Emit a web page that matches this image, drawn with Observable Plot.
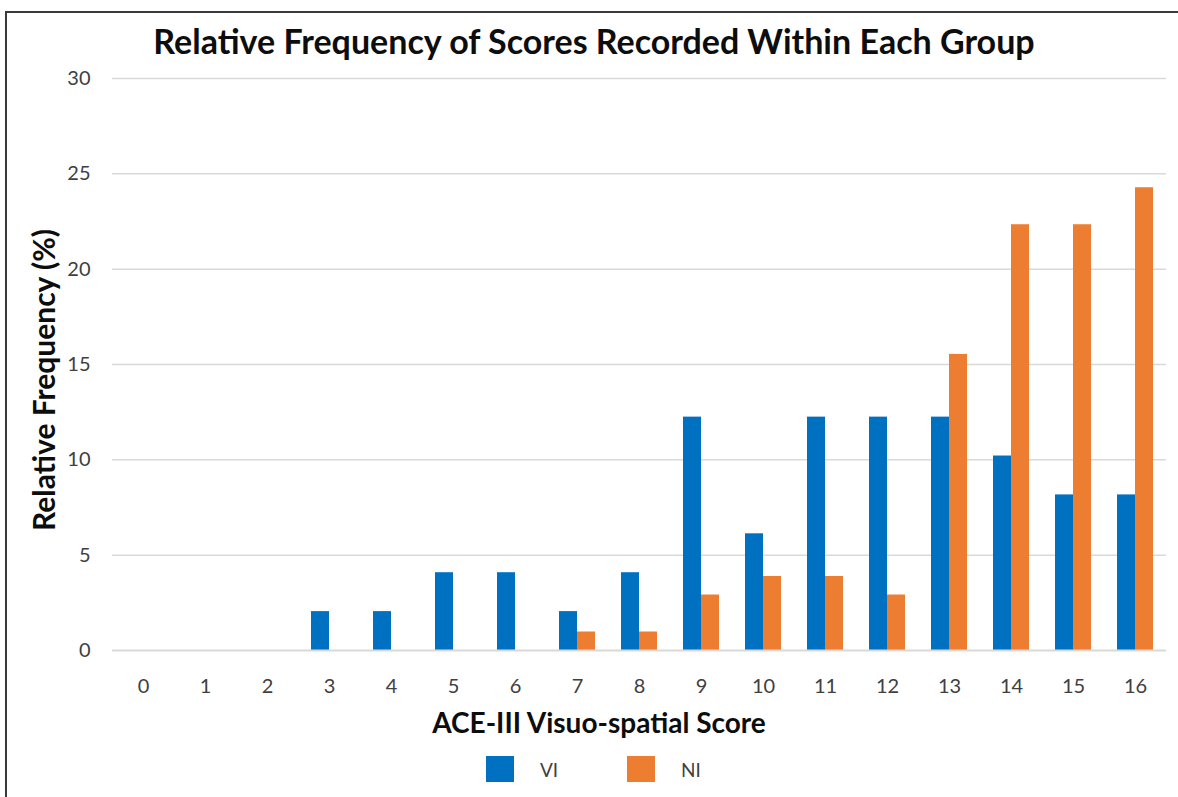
<!DOCTYPE html>
<html>
<head>
<meta charset="utf-8">
<script src="https://cdn.jsdelivr.net/npm/d3@7"></script>
<script src="https://cdn.jsdelivr.net/npm/@observablehq/plot@0.6"></script>
<style>
  html, body { margin: 0; padding: 0; background: #fff; }
  body { width: 1178px; height: 797px; position: relative; overflow: hidden; font-family: Lato, "Open Sans", sans-serif; }
  #frame { position: absolute; left: 5px; top: 11px; width: 1180px; height: 800px; border-left: 2px solid #3a3a3a; border-top: 2px solid #3a3a3a; }
  #title { position: absolute; left: 0; width: 1188px; top: 21px; line-height: 40px; text-align: center; font-weight: bold; font-size: 34px; color: #0d0d0d; }
  #chart { position: absolute; left: 0; top: 60px; }
  #xlabel { position: absolute; left: 0; width: 1198px; top: 706px; line-height: 32px; text-align: center; font-weight: bold; font-size: 28px; color: #0d0d0d; }
  #ylabel { position: absolute; left: 43px; top: 380px; transform: translate(-50%, -50%) rotate(-90deg); white-space: nowrap; line-height: 32px; font-weight: bold; font-size: 30px; color: #0d0d0d; }
  .leg { position: absolute; top: 756px; height: 26px; display: flex; align-items: center; font-size: 19px; color: #404040; font-family: Lato, "Open Sans", sans-serif; }
  .sw { width: 28px; height: 26px; margin-right: 26px; }
</style>
</head>
<body>
<div id="frame"></div>
<div id="title">Relative Frequency of Scores Recorded Within Each Group</div>
<div id="chart"></div>
<div id="xlabel">ACE-III Visuo-spatial Score</div>
<div id="ylabel">Relative Frequency (%)</div>
<div id="legend"></div>
<script>
const scores = [0, 1, 2, 3, 4, 5, 6, 7, 8, 9, 10, 11, 12, 13, 14, 15, 16];
const groups = ["VI", "NI"];
const colors = ["#0070C0", "#ED7D31"];
const viValues = [0, 0, 0, 2.04, 2.04, 4.08, 4.08, 2.04, 4.08, 12.24, 6.12, 12.24, 12.24, 12.24, 10.2, 8.16, 8.16];
const niValues = [0, 0, 0, 0, 0, 0, 0, 0.97, 0.97, 2.91, 3.88, 3.88, 2.91, 15.53, 22.33, 22.33, 24.27];
const yTicks = [0, 5, 10, 15, 20, 25, 30];

const data = [];
scores.forEach((s, i) => {
  data.push({score: s, group: "VI", value: viValues[i]});
  data.push({score: s, group: "NI", value: niValues[i]});
});

const chart = Plot.plot({
  width: 1178,
  height: 680,
  marginLeft: 112,
  marginRight: 12,
  marginTop: 18,
  marginBottom: 90,
  style: {fontFamily: "Lato, 'Open Sans', sans-serif", fontSize: "20px", color: "#404040", background: "transparent"},
  fx: {domain: scores, padding: 0, axis: "bottom", tickSize: 0, tickPadding: 28, label: null},
  x: {domain: groups, paddingInner: 0, paddingOuter: 0.72, axis: null},
  y: {domain: [0, 30], ticks: yTicks, axis: "left", tickSize: 0, tickPadding: 22, label: null},
  color: {domain: groups, range: colors},
  marks: [
    Plot.ruleY(yTicks.filter(d => d > 0), {stroke: "#d9d9d9", strokeWidth: 1.5}),
    Plot.barY(data, {fx: "score", x: "group", y: "value", fill: "group"}),
    Plot.ruleY([0], {stroke: "#d9d9d9", strokeWidth: 2})
  ]
});
document.getElementById("chart").appendChild(chart);

const legend = document.getElementById("legend");
const legendX = [486, 627];
groups.forEach((g, i) => {
  const item = document.createElement("div");
  item.className = "leg";
  item.style.left = legendX[i] + "px";
  const sw = document.createElement("div");
  sw.className = "sw";
  sw.style.background = colors[i];
  const t = document.createElement("span");
  t.textContent = g;
  item.appendChild(sw);
  item.appendChild(t);
  legend.appendChild(item);
});
</script>
</body>
</html>
